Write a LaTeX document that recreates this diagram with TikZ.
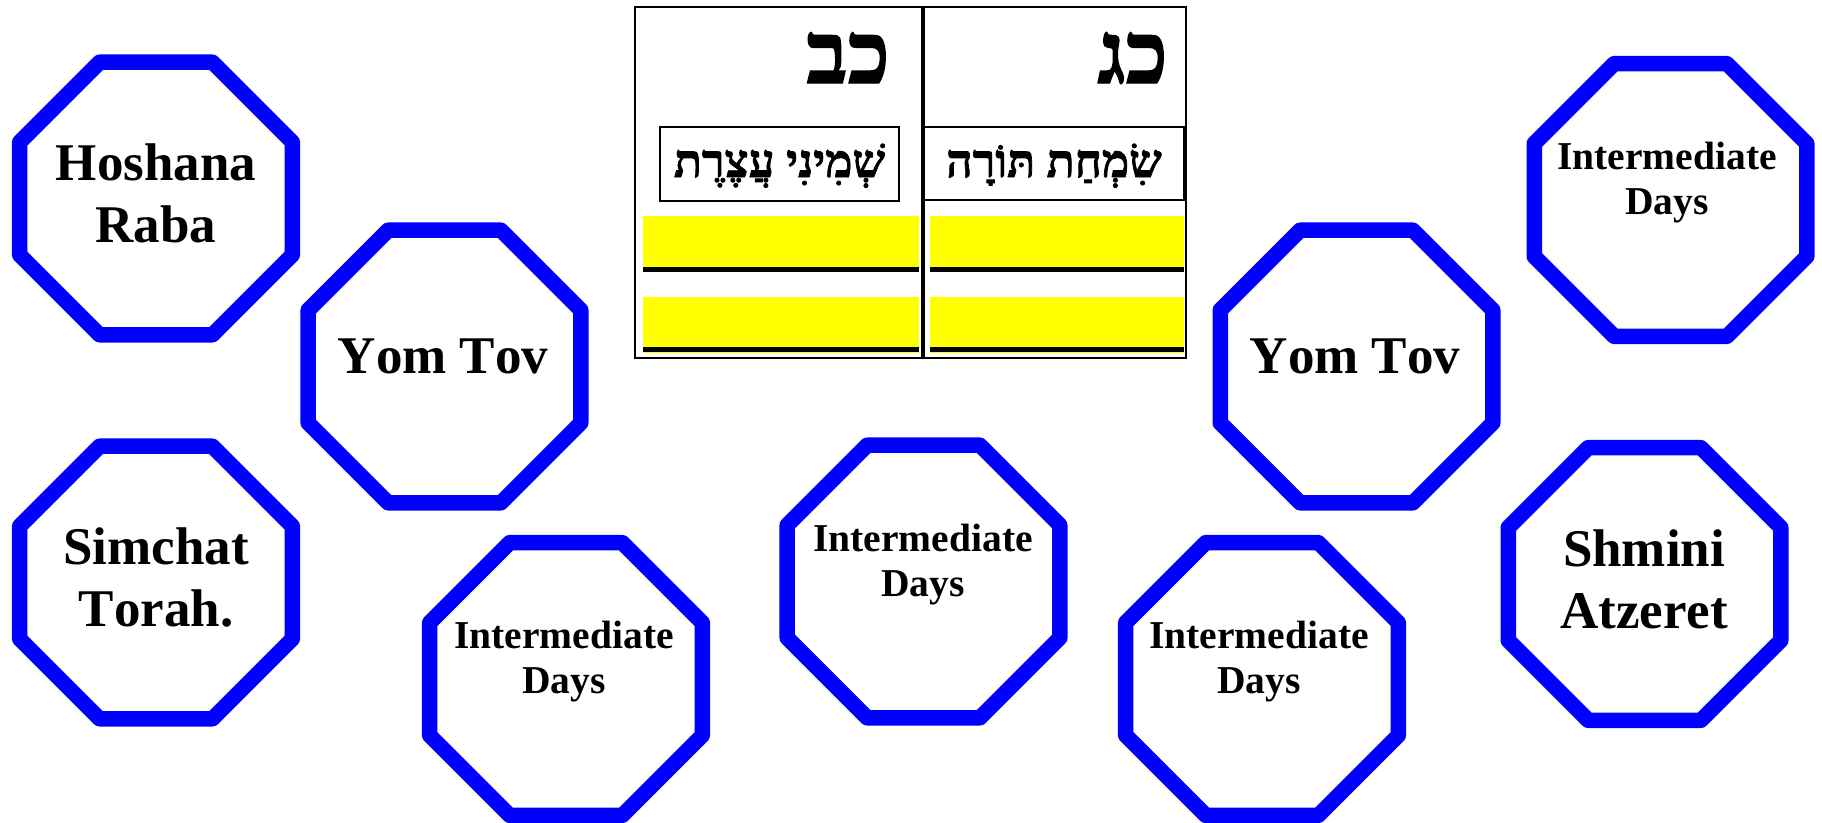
\documentclass[tikz,border=0pt]{standalone}
\usepackage{fontspec}
\setmainfont{Liberation Serif}[Kerning=Off]
\newfontfamily\hebfont[Script=Hebrew, BoldFeatures={FakeBold=1.6}]{Liberation Serif}
\TeXXeTstate=1
\usetikzlibrary{shapes.geometric}
\definecolor{octblue}{RGB}{0,0,255}
\definecolor{baryellow}{RGB}{255,255,0}
\begin{document}
\begin{tikzpicture}[x=1pt,y=-1pt,
  octagon/.style={regular polygon, regular polygon sides=8, minimum size=295pt,
    inner sep=0pt, draw=octblue, line width=15.5pt, line join=round},
  biglabel/.style={font=\bfseries\fontsize{53}{62}\selectfont, align=center, inner sep=0pt},
  smalllabel/.style={font=\bfseries\fontsize{39.5}{45}\selectfont, align=center, inner sep=0pt},
  daynum/.style={font=\hebfont\bfseries\fontsize{86}{90}\selectfont, inner sep=0pt, anchor=base east},
  hebname/.style={font=\hebfont\bfseries\fontsize{46}{50}\selectfont, inner sep=0pt, anchor=base},
  namecell/.style={draw, line width=2.8pt, inner sep=0pt},
  rule/.style={line width=5pt},
  frame/.style={line width=2.8pt}]
\useasboundingbox (0,0) rectangle (1822,822);

% ---- calendar strip: two day columns ----
\fill[baryellow] (643,216) rectangle (919,267);
\fill[baryellow] (643,297) rectangle (919,353);
\fill[baryellow] (930,216) rectangle (1184,267);
\fill[baryellow] (930,297) rectangle (1184,353);
\coordinate (l1a) at (643,269.5); \coordinate (l1b) at (919,269.5);
\coordinate (l2a) at (643,349.5); \coordinate (l2b) at (919,349.5);
\coordinate (r1a) at (930,269.5); \coordinate (r1b) at (1184,269.5);
\coordinate (r2a) at (930,349.5); \coordinate (r2b) at (1184,349.5);
\draw[rule] (l1a) -- (l1b);
\draw[rule] (l2a) -- (l2b);
\draw[rule] (r1a) -- (r1b);
\draw[rule] (r2a) -- (r2b);

\draw[frame] (635,7) rectangle (1186,358);
\draw[line width=4pt] (923,7) -- (923,358);

% day numbers
\node[daynum] (d22) at (890,83) {\beginR כב\endR};
\node[daynum] (d23) at (1168,83) {\beginR כג\endR};

% holiday names
\node[namecell, minimum width=239pt, minimum height=74pt] (c22) at (779.5,164) {};
\node[namecell, minimum width=260pt, minimum height=73pt] (c23) at (1054,163.5) {};
\node[hebname] (n22) at (779.5,177) {\beginR שְׁמִינִי עֲצֶרֶת\endR};
\node[hebname] (n23) at (1054,177) {\beginR שִׂמְחַת תּוֹרָה\endR};

% ---- octagons ----
\node[octagon] (o1) at (156,198.5) {};
\node[octagon] (o2) at (444.5,366.5) {};
\node[octagon] (o3) at (156,582.5) {};
\node[octagon] (o4) at (566,679) {};
\node[octagon] (o5) at (923.5,581.5) {};
\node[octagon] (o6) at (1356.5,366.5) {};
\node[octagon] (o7) at (1262,679) {};
\node[octagon] (o8) at (1644.5,584) {};
\node[octagon] (o9) at (1670.5,200) {};

\node[biglabel] (t1) at (156,193.5) {Hoshana\\Raba};
\node[biglabel, anchor=base] (t2) at (443,373) {Yom Tov};
\node[biglabel] (t3) at (156,577.5) {Simchat\\Torah.};
\node[smalllabel] (t4) at (564,662) {Intermediate\\Days};
\node[smalllabel] (t5) at (923,564.5) {Intermediate\\Days};
\node[biglabel, anchor=base] (t6) at (1355,373) {Yom Tov};
\node[smalllabel] (t7) at (1259,662) {Intermediate\\Days};
\node[biglabel] (t8) at (1644,579) {Shmini\\Atzeret};
\node[smalllabel] (t9) at (1667,183) {Intermediate\\Days};
\end{tikzpicture}
\end{document}
